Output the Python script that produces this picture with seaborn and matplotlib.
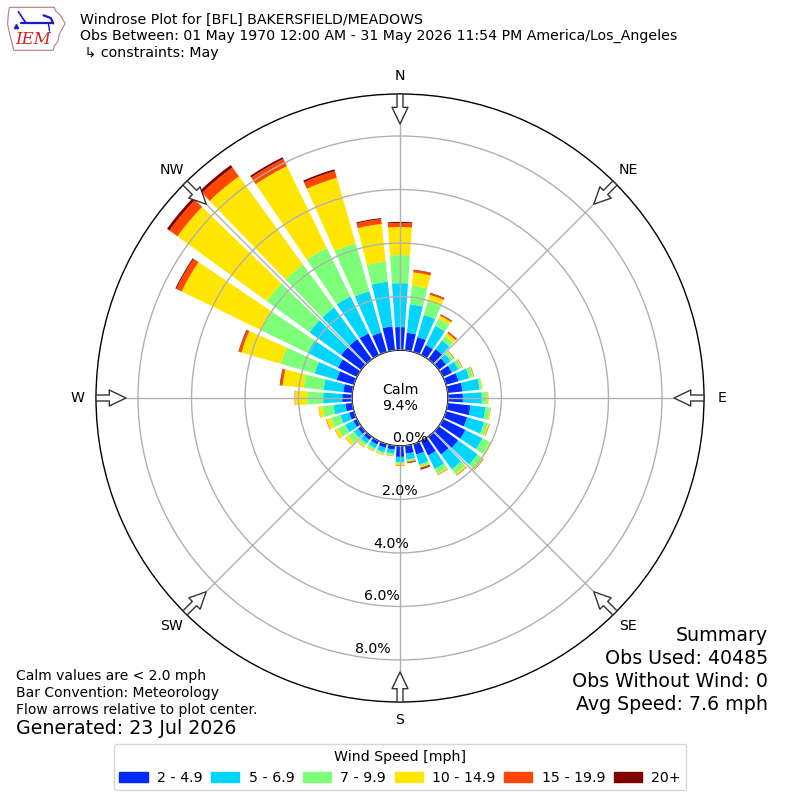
import numpy as np
import matplotlib
matplotlib.use("Agg")
import matplotlib.pyplot as plt
import seaborn as sns
from matplotlib.patches import Patch, Polygon

# wind direction bins (deg, meteorological) and speed classes
directions = np.arange(0, 360, 10)
speed_labels = ["2 - 4.9", "5 - 6.9", "7 - 9.9", "10 - 14.9", "15 - 19.9", "20+"]
compass = ["N", "NE", "E", "SE", "S", "SW", "W", "NW"]

# percent of observations in each direction bin, per speed class
spd_2_5 = [0.86, 0.66, 0.58, 0.41, 0.47, 0.34, 0.37, 0.49, 0.56, 0.56, 0.86, 0.82,
           0.93, 0.90, 0.82, 0.60, 0.41, 0.30, 0.41, 0.15, 0.15, 0.15, 0.15, 0.15,
           0.15, 0.19, 0.26, 0.37, 0.34, 0.67, 0.79, 0.93, 0.93, 0.90, 0.75, 0.90]
spd_5_7 = [1.64, 1.07, 0.86, 0.80, 0.40, 0.22, 0.27, 0.41, 0.64, 0.71, 0.56, 0.66,
           0.71, 0.89, 0.68, 0.56, 0.39, 0.22, 0.19, 0.16, 0.17, 0.15, 0.17, 0.19,
           0.34, 0.34, 0.45, 0.71, 0.74, 0.86, 1.27, 1.46, 1.46, 1.53, 1.61, 1.68]
spd_7_10 = [1.05, 0.70, 0.53, 0.29, 0.20, 0.11, 0.13, 0.15, 0.09, 0.19, 0.17, 0.16,
            0.30, 0.23, 0.22, 0.19, 0.08, 0.06, 0.07, 0.04, 0.06, 0.09, 0.11, 0.26,
            0.30, 0.37, 0.41, 0.60, 0.75, 1.31, 1.94, 1.98, 1.98, 2.02, 1.86, 0.75]
spd_10_15 = [1.05, 0.50, 0.25, 0.13, 0.14, 0.04, 0.03, 0.03, 0.02, 0.04, 0.03, 0.04,
             0.03, 0.04, 0.06, 0.05, 0.04, 0.02, 0.06, 0.04, 0.04, 0.04, 0.06, 0.13,
             0.13, 0.17, 0.15, 0.45, 0.79, 1.53, 3.29, 4.12, 4.08, 3.40, 2.55, 1.42]
spd_15_20 = [0.15, 0.08, 0.06, 0.04, 0.06, 0.01, 0.02, 0.02, 0.00, 0.01, 0.01, 0.02,
             0.01, 0.01, 0.01, 0.02, 0.04, 0.04, 0.02, 0.01, 0.01, 0.01, 0.01, 0.01,
             0.01, 0.02, 0.01, 0.02, 0.09, 0.10, 0.22, 0.37, 0.41, 0.30, 0.26, 0.18]
spd_20 = [0.04, 0.02, 0.02, 0.02, 0.01, 0.01, 0.00, 0.00, 0.00, 0.00, 0.00, 0.00,
          0.00, 0.01, 0.01, 0.00, 0.04, 0.02, 0.00, 0.00, 0.00, 0.00, 0.00, 0.00,
          0.00, 0.00, 0.00, 0.00, 0.02, 0.02, 0.04, 0.11, 0.11, 0.07, 0.07, 0.04]
speeds = [spd_2_5, spd_5_7, spd_7_10, spd_10_15, spd_15_20, spd_20]

calm_pct = 9.4
rmax = 9.57

sns.set_style("white")
plt.rcParams["font.family"] = ["DejaVu Sans"]
plt.rcParams["axes.axisbelow"] = False
plt.rcParams["text.color"] = "black"
plt.rcParams["xtick.color"] = "black"
plt.rcParams["ytick.color"] = "black"
colors = sns.color_palette(list(plt.get_cmap("jet")(np.linspace(0, 1, 7)[1:])))

fs = 10.2
fig = plt.figure(figsize=(8, 8), dpi=100)
ax = fig.add_axes([0.12, 0.1225, 0.76, 0.76], projection="polar")
ax.set_theta_zero_location("N")
ax.set_theta_direction(-1)

theta = np.radians(directions)
width = np.radians(8)
bottom = np.zeros(len(directions))
for vals, c in zip(speeds, colors):
    vals = np.array(vals)
    ax.bar(theta, vals, width=width, bottom=bottom, color=c, edgecolor="none", zorder=1)
    bottom += vals

ax.set_rorigin(-1.79)
ax.set_ylim(0, rmax)
ax.set_rgrids([0, 2, 4, 6, 8], labels=["0.0%", "2.0%", "4.0%", "6.0%", "8.0%"],
              angle=190, fontsize=fs)
ax.set_thetagrids(np.arange(0, 360, 45), labels=compass, fontsize=fs)
ax.tick_params(axis="x", pad=2.8)
ax.grid(True, color="#b0b0b0", lw=1)
for name in ["polar", "inner"]:
    if name in ax.spines:
        ax.spines[name].set_color("black")
        ax.spines[name].set_linewidth(1)

# flow arrows pointing to plot center
for ang in np.arange(0, 360, 45):
    ax.annotate("", xy=(np.radians(ang), 8.45), xytext=(np.radians(ang), rmax),
                arrowprops=dict(arrowstyle="simple,head_length=1.2,head_width=1.15,tail_width=0.43",
                                fc="white", ec="#333333", lw=1, shrinkA=0, shrinkB=0,
                                mutation_scale=10),
                annotation_clip=False, zorder=5)

ax.text(0.5, 0.5, "Calm\n%.1f%%" % calm_pct, transform=ax.transAxes,
        ha="center", va="center", fontsize=fs)

# header
fig.text(0.1, 0.975, "Windrose Plot for [BFL] BAKERSFIELD/MEADOWS", fontsize=fs, va="center")
fig.text(0.1, 0.955, "Obs Between: 01 May 1970 12:00 AM - 31 May 2026 11:54 PM America/Los_Angeles",
         fontsize=fs, va="center")
fig.text(0.1, 0.934, " \u21b3 constraints: May", fontsize=fs, va="center")

# summary
summary = ["Summary", "Obs Used: 40485", "Obs Without Wind: 0", "Avg Speed: 7.6 mph"]
for i, s in enumerate(summary):
    fig.text(0.96, 0.206 - i * 0.029, s, fontsize=13.65, ha="right", va="center")

notes = ["Calm values are < 2.0 mph", "Bar Convention: Meteorology",
         "Flow arrows relative to plot center."]
for i, s in enumerate(notes):
    fig.text(0.02, 0.155 - i * 0.0212, s, fontsize=10, va="center")
fig.text(0.02, 0.089, "Generated: 23 Jul 2026", fontsize=13.65, va="center")

handles = [Patch(color=c, label=l) for c, l in zip(colors, speed_labels)]
fig.legend(handles=handles, loc="lower center", bbox_to_anchor=(0.5, 0.012), ncol=6,
           title="Wind Speed [mph]", fontsize=fs, title_fontsize=fs, borderaxespad=0,
           columnspacing=0.6, handletextpad=0.65)

# small IEM logo
lax = fig.add_axes([0.008, 0.936, 0.075, 0.056])
lax.set_xlim(0, 1)
lax.set_ylim(0, 1)
lax.axis("off")
iowa = [(0.05, 0.98), (0.80, 0.98), (0.82, 0.9), (0.9, 0.8), (0.98, 0.62), (0.93, 0.5),
        (0.88, 0.38), (0.86, 0.22), (0.80, 0.12), (0.78, 0.02), (0.12, 0.02), (0.10, 0.15),
        (0.06, 0.35), (0.02, 0.6), (0.03, 0.8)]
lax.add_patch(Polygon(iowa, closed=True, fill=False, ec="#b08080", lw=0.8))
lax.plot([0.25, 0.78], [0.62, 0.62], color="#1a1acc", lw=1.6)
lax.plot([0.2, 0.32], [0.88, 0.64], color="#1a1acc", lw=1.2)
lax.plot([0.62, 0.74, 0.78], [0.8, 0.74, 0.62], color="#1a1acc", lw=1.6)
lax.plot([0.7, 0.72], [0.62, 0.45], color="#1a1acc", lw=1.0)
lax.plot([0.16], [0.56], marker="^", color="#1a1acc", ms=3)
lax.text(0.45, 0.25, "IEM", color="#cc2222", fontsize=12, style="italic",
         family="DejaVu Serif", ha="center", va="center")

fig.savefig("out.png", dpi=100)
